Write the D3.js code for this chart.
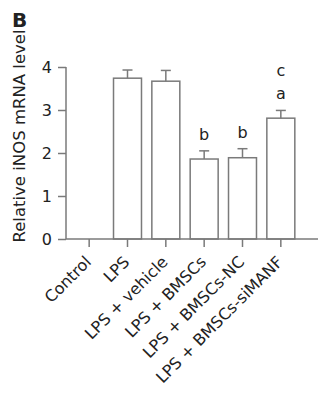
<!DOCTYPE html>
<html>
<head>
<meta charset="utf-8">
<script src="https://cdn.jsdelivr.net/npm/d3@7"></script>
<style>
  html, body { margin: 0; padding: 0; background: #fff; }
  svg { display: block; }
  text { font-family: "DejaVu Sans", Verdana, sans-serif; fill: #222; }
</style>
</head>
<body>
<svg id="chart" width="323" height="396"></svg>
<script>
// Groups, mean iNOS mRNA levels, SEM and significance marks
const categories = ["Control", "LPS", "LPS + vehicle", "LPS + BMSCs", "LPS + BMSCs-NC", "LPS + BMSCs-siMANF"];
const means = [0, 3.74, 3.67, 1.86, 1.89, 2.81];
const errors = [0, 0.19, 0.25, 0.19, 0.21, 0.18];
const marks = [[], [], [], ["b"], ["b"], ["a", "c"]];
const yTicks = [0, 1, 2, 3, 4];

const svg = d3.select("#chart");
const plotLeft = 66, plotRight = 318, plotTop = 67, plotBottom = 239;

const x = d3.scaleBand().domain(categories).range([70, 300]).paddingInner(0.27).paddingOuter(0.135);
const y = d3.scaleLinear().domain([0, 4]).range([plotBottom, plotTop]);

const stroke = "#7a7a7a";

// bars
svg.append("g").selectAll("rect").data(categories.map((c, i) => ({ c, v: means[i] })).filter(d => d.v > 0))
  .join("rect")
  .attr("x", d => x(d.c))
  .attr("y", d => y(d.v))
  .attr("width", x.bandwidth())
  .attr("height", d => y(0) - y(d.v))
  .attr("fill", "#fff")
  .attr("stroke", stroke)
  .attr("stroke-width", 1.5);

// error bars (upper)
const eb = svg.append("g").attr("stroke", stroke).attr("stroke-width", 1.5);
categories.forEach((c, i) => {
  if (!means[i]) return;
  const cx = x(c) + x.bandwidth() / 2;
  eb.append("line").attr("x1", cx).attr("x2", cx).attr("y1", y(means[i])).attr("y2", y(means[i] + errors[i]));
  eb.append("line").attr("x1", cx - 5).attr("x2", cx + 5).attr("y1", y(means[i] + errors[i])).attr("y2", y(means[i] + errors[i]));
});

// significance letters
categories.forEach((c, i) => {
  const cx = x(c) + x.bandwidth() / 2;
  marks[i].forEach((m, k) => {
    svg.append("text").attr("x", cx).attr("y", y(means[i] + errors[i]) - 11 - k * 23)
      .attr("text-anchor", "middle").attr("font-size", 16).text(m);
  });
});

// y axis
const yAxis = svg.append("g").attr("transform", `translate(${plotLeft},0)`)
  .call(d3.axisLeft(y).tickValues(yTicks).tickFormat(d3.format("d")).tickSize(8).tickPadding(6));
yAxis.select(".domain").attr("d", `M0,${y(0)}V${y(4)}`);
yAxis.selectAll("line, path").attr("stroke", stroke).attr("stroke-width", 1.5);
yAxis.selectAll("text").attr("font-size", 16).attr("font-family", "DejaVu Sans, Verdana, sans-serif").attr("fill", "#222");

// x axis
const xAxis = svg.append("g").attr("transform", `translate(0,${plotBottom})`)
  .call(d3.axisBottom(x).tickSize(8).tickSizeOuter(0));
xAxis.select(".domain").attr("d", `M${plotLeft},0H${plotRight}`);
xAxis.selectAll("line, path").attr("stroke", stroke).attr("stroke-width", 1.5);
xAxis.selectAll("text")
  .attr("font-size", 16)
  .attr("font-family", "DejaVu Sans, Verdana, sans-serif")
  .attr("fill", "#222")
  .attr("text-anchor", "end")
  .attr("x", 0).attr("y", 0)
  .attr("dy", "0.35em")
  .attr("transform", "translate(-1,20) rotate(-45)");

// y title
svg.append("text")
  .attr("transform", "translate(25,136) rotate(-90)")
  .attr("text-anchor", "middle").attr("font-size", 16.5)
  .text("Relative iNOS mRNA level");

// panel letter
svg.append("text").attr("x", 12).attr("y", 27).attr("font-size", 20).attr("font-weight", "bold").text("B");
</script>
</body>
</html>
